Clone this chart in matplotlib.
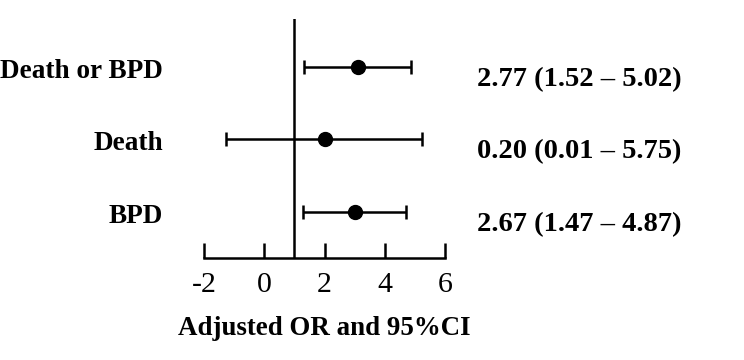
import matplotlib.pyplot as plt

outcomes = ["Death or BPD", "Death", "BPD"]
or_point = [3.12, 2.00, 3.02]
ci_low = [1.33, -1.26, 1.27]
ci_high = [4.88, 5.25, 4.72]
or_text = ["2.77 (1.52 \u2013 5.02)", "0.20 (0.01 \u2013 5.75)", "2.67 (1.47 \u2013 4.87)"]
xticks = [-2, 0, 2, 4, 6]

plt.rcParams["font.family"] = "Liberation Serif"
plt.rcParams["axes.unicode_minus"] = False

fig = plt.figure(figsize=(7.44, 3.6), dpi=100)
ax = fig.add_axes([204 / 744, 1 - 258 / 360, 241 / 744, 239 / 360])

ypos = [3, 2, 1]
err_lo = [p - l for p, l in zip(or_point, ci_low)]
err_hi = [h - p for p, h in zip(or_point, ci_high)]
ax.errorbar(or_point, ypos, xerr=[err_lo, err_hi], fmt="o", color="black",
            markersize=10, elinewidth=1.8, capsize=4.7, capthick=1.8)
ax.axvline(1, color="black", lw=1.8)

ax.set_xlim(-2, 6)
ax.set_ylim(0.366, 3.66)
for s in ["left", "right", "top"]:
    ax.spines[s].set_visible(False)
ax.spines["bottom"].set_linewidth(1.8)
ax.set_yticks([])
ax.set_xticks(xticks)
ax.tick_params(axis="x", direction="in", length=10.8, width=1.8, labelsize=21.5, pad=10)
ax.set_xlabel("Adjusted OR and 95%CI", fontsize=19.4, fontweight="bold", labelpad=13)

tr = ax.get_yaxis_transform()
for y, name, txt in zip(ypos, outcomes, or_text):
    ax.text(-0.17, y - 0.06, name, transform=tr, ha="right", va="center",
            fontsize=19.6, fontweight="bold")
    ax.text(1.133, y - 0.17, txt, transform=tr, ha="left", va="center",
            fontsize=20.5, fontweight="bold")

fig.savefig("out.png", dpi=100)
